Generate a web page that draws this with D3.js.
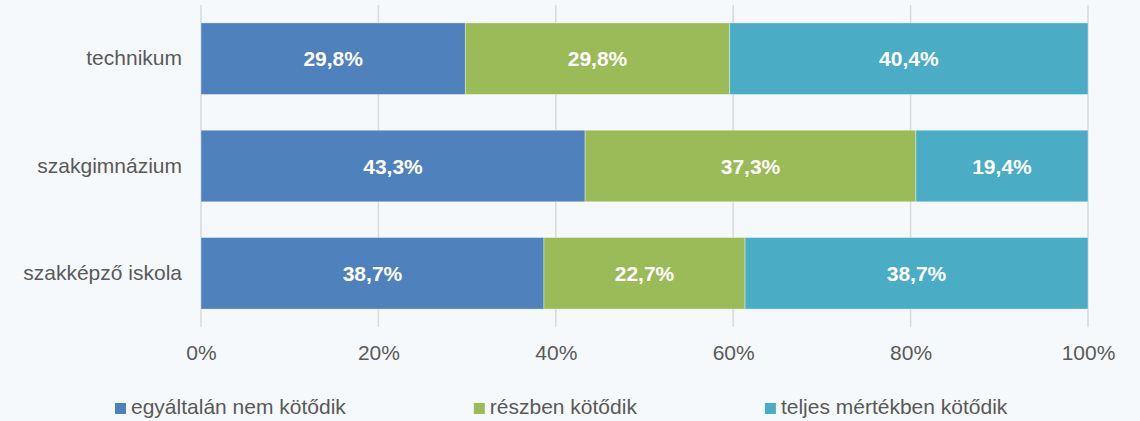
<!DOCTYPE html>
<html>
<head>
<meta charset="utf-8">
<script src="https://cdn.jsdelivr.net/npm/d3@7"></script>
<style>
  body { margin: 0; background: #f6f9fb; }
  svg { display: block; font-family: "Liberation Sans", Arial, sans-serif; }
</style>
</head>
<body>
<svg id="chart" width="1140" height="421"></svg>
<script>
// data
var categories = ["technikum", "szakgimnázium", "szakképző iskola"]
var seriesNames = ["egyáltalán nem kötődik", "részben kötődik", "teljes mértékben kötődik"]
var notAtAll = [29.8, 43.3, 38.7]
var partly = [29.8, 37.3, 22.7]
var fully = [40.4, 19.4, 38.7]
var tickValues = [0, 0.2, 0.4, 0.6, 0.8, 1]
var colors = ["#4f81bd", "#9bbb59", "#4bacc6"]

var rows = categories.map(function(c, i){
  return {cat: c, s0: notAtAll[i], s1: partly[i], s2: fully[i]}
})
var keys = ["s0", "s1", "s2"]

var svg = d3.select("#chart")
var textColor = "#595959"

var x = d3.scaleLinear().domain([0, 1]).range([201, 1088])
var y = d3.scaleBand()
    .domain(categories)
    .range([5, 327])
    .paddingInner(0.333)
    .paddingOuter(0.167)

var stackData = d3.stack()
    .keys(keys)
    .offset(d3.stackOffsetExpand)(rows)

// gridlines
svg.append("g")
  .selectAll("line")
  .data(tickValues)
  .enter().append("line")
    .attr("x1", d => x(d)).attr("x2", d => x(d))
    .attr("y1", 5).attr("y2", 327)
    .style("stroke", "#d9d9d9")
    .style("stroke-width", 1.5)

// bars
var layers = svg.append("g")
  .selectAll("g")
  .data(stackData)
  .enter().append("g")
    .style("fill", (d, i) => colors[i])

layers.selectAll("rect")
  .data(d => d)
  .enter().append("rect")
    .attr("x", d => x(d[0]))
    .attr("y", d => y(d.data.cat))
    .attr("width", d => x(d[1]) - x(d[0]))
    .attr("height", y.bandwidth())
    .style("stroke", "rgba(255,255,255,0.45)")
    .style("stroke-width", 0.8)

// value labels
layers.selectAll("text")
  .data(function(d){ var k = d.key; return d.map(function(p){ p.key = k; return p }) })
  .enter().append("text")
    .attr("x", d => (x(d[0]) + x(d[1])) / 2)
    .attr("y", d => y(d.data.cat) + y.bandwidth() / 2 + 7.5)
    .attr("text-anchor", "middle")
    .style("fill", "#fff")
    .style("font-weight", "bold")
    .style("font-size", "21px")
    .text(d => d.data[d.key].toFixed(1).replace(".", ",") + "%")

// category labels
var yAxis = svg.append("g")
  .attr("transform", "translate(201,0)")
  .call(d3.axisLeft(y).tickSize(0).tickPadding(19))
yAxis.select(".domain").remove()
yAxis.selectAll("text")
  .style("font-size", "21px")
  .style("fill", textColor)
  .style("font-family", "Liberation Sans, Arial, sans-serif")

// x ticks
var xAxis = svg.append("g")
  .attr("transform", "translate(0,327)")
  .call(d3.axisBottom(x).tickValues(tickValues).tickSize(0).tickPadding(18).tickFormat(d3.format(".0%")))
xAxis.select(".domain").remove()
xAxis.selectAll("text")
  .style("font-size", "21px")
  .style("fill", textColor)
  .style("font-family", "Liberation Sans, Arial, sans-serif")

// legend
var legend = svg.append("g")
var lx = 115
seriesNames.forEach(function(name, i){
  var item = legend.append("g").attr("transform", "translate(" + lx + ",0)")
  item.append("rect")
    .attr("x", 0).attr("y", 403)
    .attr("width", 11).attr("height", 11)
    .style("fill", colors[i])
  var t = item.append("text")
    .attr("x", 16).attr("y", 414)
    .style("font-size", "21px")
    .style("fill", textColor)
    .text(name)
  lx += 16 + t.node().getComputedTextLength() + 128
})
</script>
</body>
</html>
